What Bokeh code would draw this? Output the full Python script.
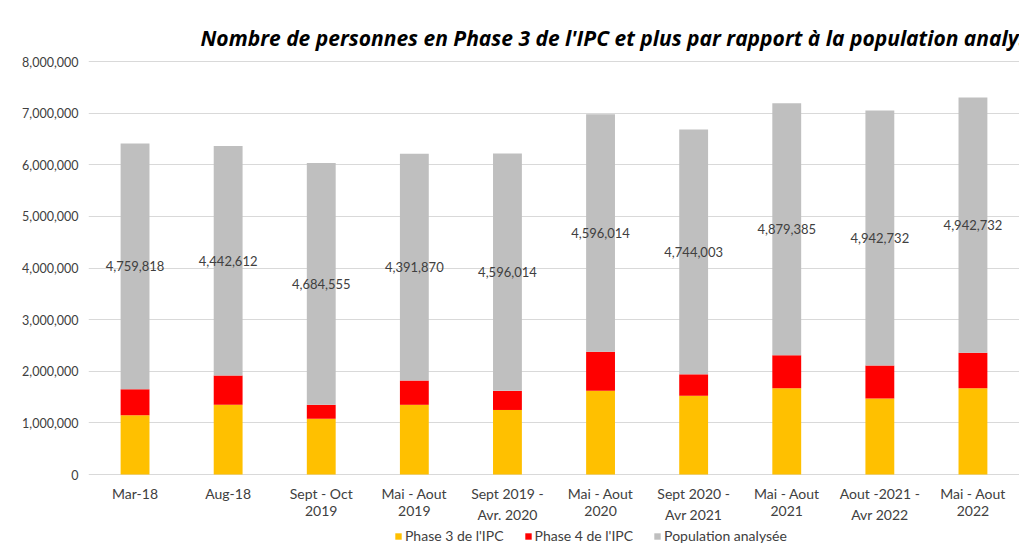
from bokeh.plotting import figure
from bokeh.models import FactorRange, Range1d, FixedTicker, Legend, LegendItem, ColumnDataSource, Label, LabelSet, NumeralTickFormatter
from bokeh.core.properties import value
from bokeh.embed import file_html
from bokeh.resources import INLINE

categories = ["Mar-18", "Aug-18", "Sept - Oct 2019", "Mai - Aout 2019", "Sept 2019 - Avr. 2020",
              "Mai - Aout 2020", "Sept 2020 - Avr 2021", "Mai - Aout 2021", "Aout -2021 - Avr 2022", "Mai - Aout 2022"]
tick_line1 = ["Mar-18", "Aug-18", "Sept - Oct", "Mai - Aout", "Sept 2019 -",
              "Mai - Aout", "Sept 2020 -", "Mai - Aout", "Aout -2021 -", "Mai - Aout"]
tick_line2 = ["", "", "2019", "2019", "Avr. 2020", "2020", "Avr 2021", "2021", "Avr 2022", "2022"]
phase3 = [1150000, 1350000, 1080000, 1350000, 1250000, 1620000, 1525000, 1670000, 1470000, 1670000]
phase4 = [500000, 570000, 270000, 470000, 370000, 760000, 415000, 640000, 640000, 690000]
population = [4759818, 4442612, 4684555, 4391870, 4596014, 4596014, 4744003, 4879385, 4942732, 4942732]
series_names = ["Phase 3 de l'IPC", "Phase 4 de l'IPC", "Population analysée"]
colors = ["#FFC000", "#FF0000", "#BFBFBF"]
title_text = "Nombre de personnes en Phase 3 de l'IPC et plus par rapport à la population analysée"
y_ticks = [0, 1000000, 2000000, 3000000, 4000000, 5000000, 6000000, 7000000, 8000000]

FONT = "Lato"

src = ColumnDataSource(dict(
    cat=categories, p3=phase3, p4=phase4, pop=population,
    lab_y=[a + b + c / 2 for a, b, c in zip(phase3, phase4, population)],
    lab=[f"{v:,}" for v in population],
    t1=tick_line1, t2=tick_line2, zero=[0] * len(categories),
))

p = figure(x_range=FactorRange(factors=categories, range_padding=0),
           y_range=Range1d(-1433400, 9181600),
           width=1019, height=548, output_backend="svg", toolbar_location=None,
           min_border_left=88, min_border_right=0, min_border_top=0, min_border_bottom=0)
p.outline_line_color = None
p.xaxis.visible = False

rs = p.vbar_stack(["p3", "p4", "pop"], x="cat", width=0.31, source=src,
                  color=colors, line_color=None)

p.text(x="cat", y="lab_y", text="lab", source=src, text_align="center", text_baseline="middle",
       text_font=value(FONT), text_font_size="13px", text_color="#404040")

p.add_layout(Label(x=1.203, y=8450000, text=title_text, text_font="Open Sans", text_font_size="21px",
                   text_font_style="bold italic", text_color="#000000", text_baseline="middle"))

for col, off in (("t1", -10), ("t2", -31)):
    p.add_layout(LabelSet(x="cat", y="zero", text=col, source=src, y_offset=off,
                          text_align="center", text_baseline="top",
                          text_font=value(FONT), text_font_size="14px", text_color="#404040"))

p.yaxis.ticker = FixedTicker(ticks=y_ticks)
p.yaxis.formatter = NumeralTickFormatter(format="0,0")
p.yaxis.axis_line_color = None
p.yaxis.major_tick_line_color = None
p.yaxis.major_tick_out = 0
p.yaxis.minor_tick_line_color = None
p.yaxis.major_label_text_font = FONT
p.yaxis.major_label_text_font_size = "12.5px"
p.yaxis.major_label_text_color = "#404040"
p.yaxis.major_label_standoff = 10

p.xgrid.grid_line_color = None
p.ygrid.grid_line_color = "#D9D9D9"

legend = Legend(items=[LegendItem(label=n, renderers=[r]) for n, r in zip(series_names, rs)],
                orientation="horizontal", location=(306, 4), padding=0, margin=0, spacing=20,
                glyph_width=8, glyph_height=8, label_standoff=3, label_height=14,
                label_text_font=FONT, label_text_font_size="14px", label_text_color="#404040",
                border_line_color=None, background_fill_alpha=0)
p.add_layout(legend, "center")

open("out.html", "w").write(file_html(p, INLINE))
